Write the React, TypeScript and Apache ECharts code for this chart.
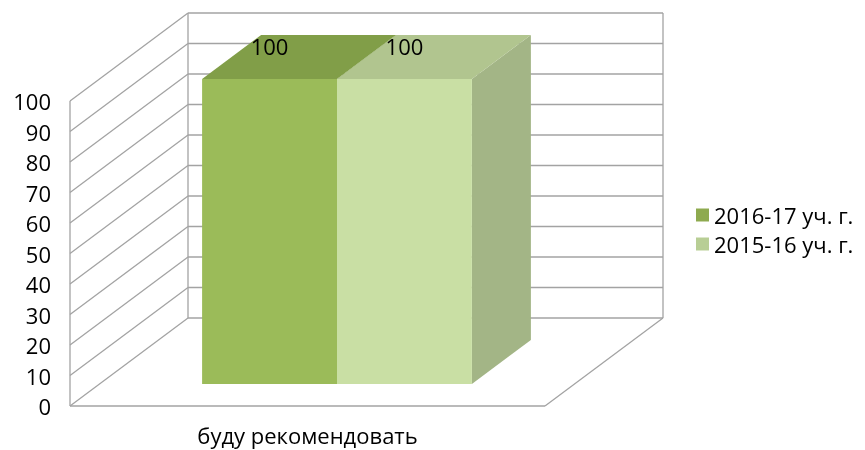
import React, { useEffect, useRef } from "react";
import * as echarts from "echarts";

const categories = ["буду рекомендовать"];
const seriesNames = ["2016-17 уч. г.", "2015-16 уч. г."];
const values2016 = [100];
const values2015 = [100];
const yTicks = [0, 10, 20, 30, 40, 50, 60, 70, 80, 90, 100];

const WALL_DX = 118;
const WALL_DY = -88;
const GRID_COLOR = "#a3a3a3";
const FONT = '"Open Sans", "Noto Sans", sans-serif';

const palettes = [
  { front: "#9bbb59", top: "#819e48", side: "#7f9a47", legend: "#8eaa4f" },
  { front: "#c9dfa4", top: "#b1c58f", side: "#a3b586", legend: "#b8ce95" },
];

export default function App() {
  const ref = useRef<HTMLDivElement>(null);
  useEffect(() => {
    if (!ref.current) return;
    const chart = echarts.init(ref.current, null, { renderer: "svg" });

    const wallSeries = {
      type: "custom",
      silent: true,
      z: 1,
      data: yTicks.map((t) => [0, t]),
      renderItem: (params: any, api: any) => {
        const v = api.value(1);
        const p = api.coord([0, v]);
        const band = api.size([1, 0])[0];
        const left = p[0] - band / 2;
        const right = p[0] + band / 2;
        const y = p[1];
        const children: any[] = [];
        const ls = { stroke: GRID_COLOR, lineWidth: 1.3 };
        children.push({ type: "line", shape: { x1: left, y1: y, x2: left + WALL_DX, y2: y + WALL_DY }, style: ls });
        children.push({ type: "line", shape: { x1: left + WALL_DX, y1: y + WALL_DY, x2: right + WALL_DX, y2: y + WALL_DY }, style: ls });
        if (params.dataIndex === 0) {
          const top = api.coord([0, yTicks[yTicks.length - 1]])[1];
          children.push({ type: "line", shape: { x1: left, y1: top, x2: left, y2: y }, style: ls });
          children.push({ type: "line", shape: { x1: left + WALL_DX, y1: top + WALL_DY, x2: left + WALL_DX, y2: y + WALL_DY }, style: ls });
          children.push({ type: "line", shape: { x1: right + WALL_DX, y1: top + WALL_DY, x2: right + WALL_DX, y2: y + WALL_DY }, style: ls });
          children.push({ type: "line", shape: { x1: left, y1: y, x2: right, y2: y }, style: ls });
          children.push({ type: "line", shape: { x1: right, y1: y, x2: right + WALL_DX, y2: y + WALL_DY }, style: ls });
        }
        return { type: "group", children };
      },
    };

    const makeBarSeries = (idx: number, name: string, vals: number[]) => ({
      type: "custom",
      name,
      z: 2 + idx,
      itemStyle: { color: palettes[idx].legend },
      data: vals.map((v, i) => [i, v]),
      renderItem: (params: any, api: any) => {
        const cat = api.value(0);
        const v = api.value(1);
        const pTop = api.coord([cat, v]);
        const pBase = api.coord([cat, 0]);
        const band = api.size([1, 0])[0];
        const barW = band * 0.284;
        const fx = WALL_DX * 0.25, fy = WALL_DY * 0.25;
        const bx = WALL_DX * 0.75, by = WALL_DY * 0.75;
        const x0 = pTop[0] - barW + idx * barW + fx;
        const yT = pTop[1] + fy;
        const yB = pBase[1] + fy;
        const dx = bx - fx, dy = by - fy;
        const pal = palettes[idx];
        return {
          type: "group",
          children: [
            {
              type: "polygon",
              shape: { points: [[x0 + barW, yT], [x0 + barW + dx, yT + dy], [x0 + barW + dx, yB + dy], [x0 + barW, yB]] },
              style: { fill: pal.side },
            },
            {
              type: "polygon",
              shape: { points: [[x0, yT], [x0 + barW, yT], [x0 + barW + dx, yT + dy], [x0 + dx, yT + dy]] },
              style: { fill: pal.top },
            },
            { type: "rect", shape: { x: x0, y: yT, width: barW, height: yB - yT }, style: { fill: pal.front } },
            {
              type: "text",
              z2: 10,
              style: {
                text: String(v),
                x: x0 + barW / 2,
                y: yT - 33,
                align: "center",
                verticalAlign: "middle",
                fill: "#000",
                font: '22px ' + FONT,
              },
            },
          ],
        };
      },
    });

    chart.setOption({
      animation: false,
      textStyle: { fontFamily: FONT },
      grid: { left: 70, right: 320, top: 101, bottom: 44 },
      legend: {
        orient: "vertical",
        left: 691,
        top: 199,
        itemWidth: 13,
        itemHeight: 13,
        itemGap: 7,
        icon: "rect",
        textStyle: { fontSize: 22, color: "#000", fontFamily: FONT },
        data: seriesNames,
      },
      xAxis: {
        type: "category",
        data: categories,
        axisLine: { show: false },
        axisTick: { show: false },
        axisLabel: { fontSize: 22, lineHeight: 22, color: "#000", margin: 18 },
      },
      yAxis: {
        type: "value",
        min: 0,
        max: 100,
        interval: 10,
        axisLine: { show: false },
        axisTick: { show: false },
        splitLine: { show: false },
        axisLabel: { fontSize: 22, color: "#000", margin: 19 },
      },
      series: [wallSeries, makeBarSeries(0, seriesNames[0], values2016), makeBarSeries(1, seriesNames[1], values2015)],
    });
    return () => chart.dispose();
  }, []);
  return <div ref={ref} style={{ position: "fixed", left: 0, top: 0, width: 865, height: 450 }} />;
}
